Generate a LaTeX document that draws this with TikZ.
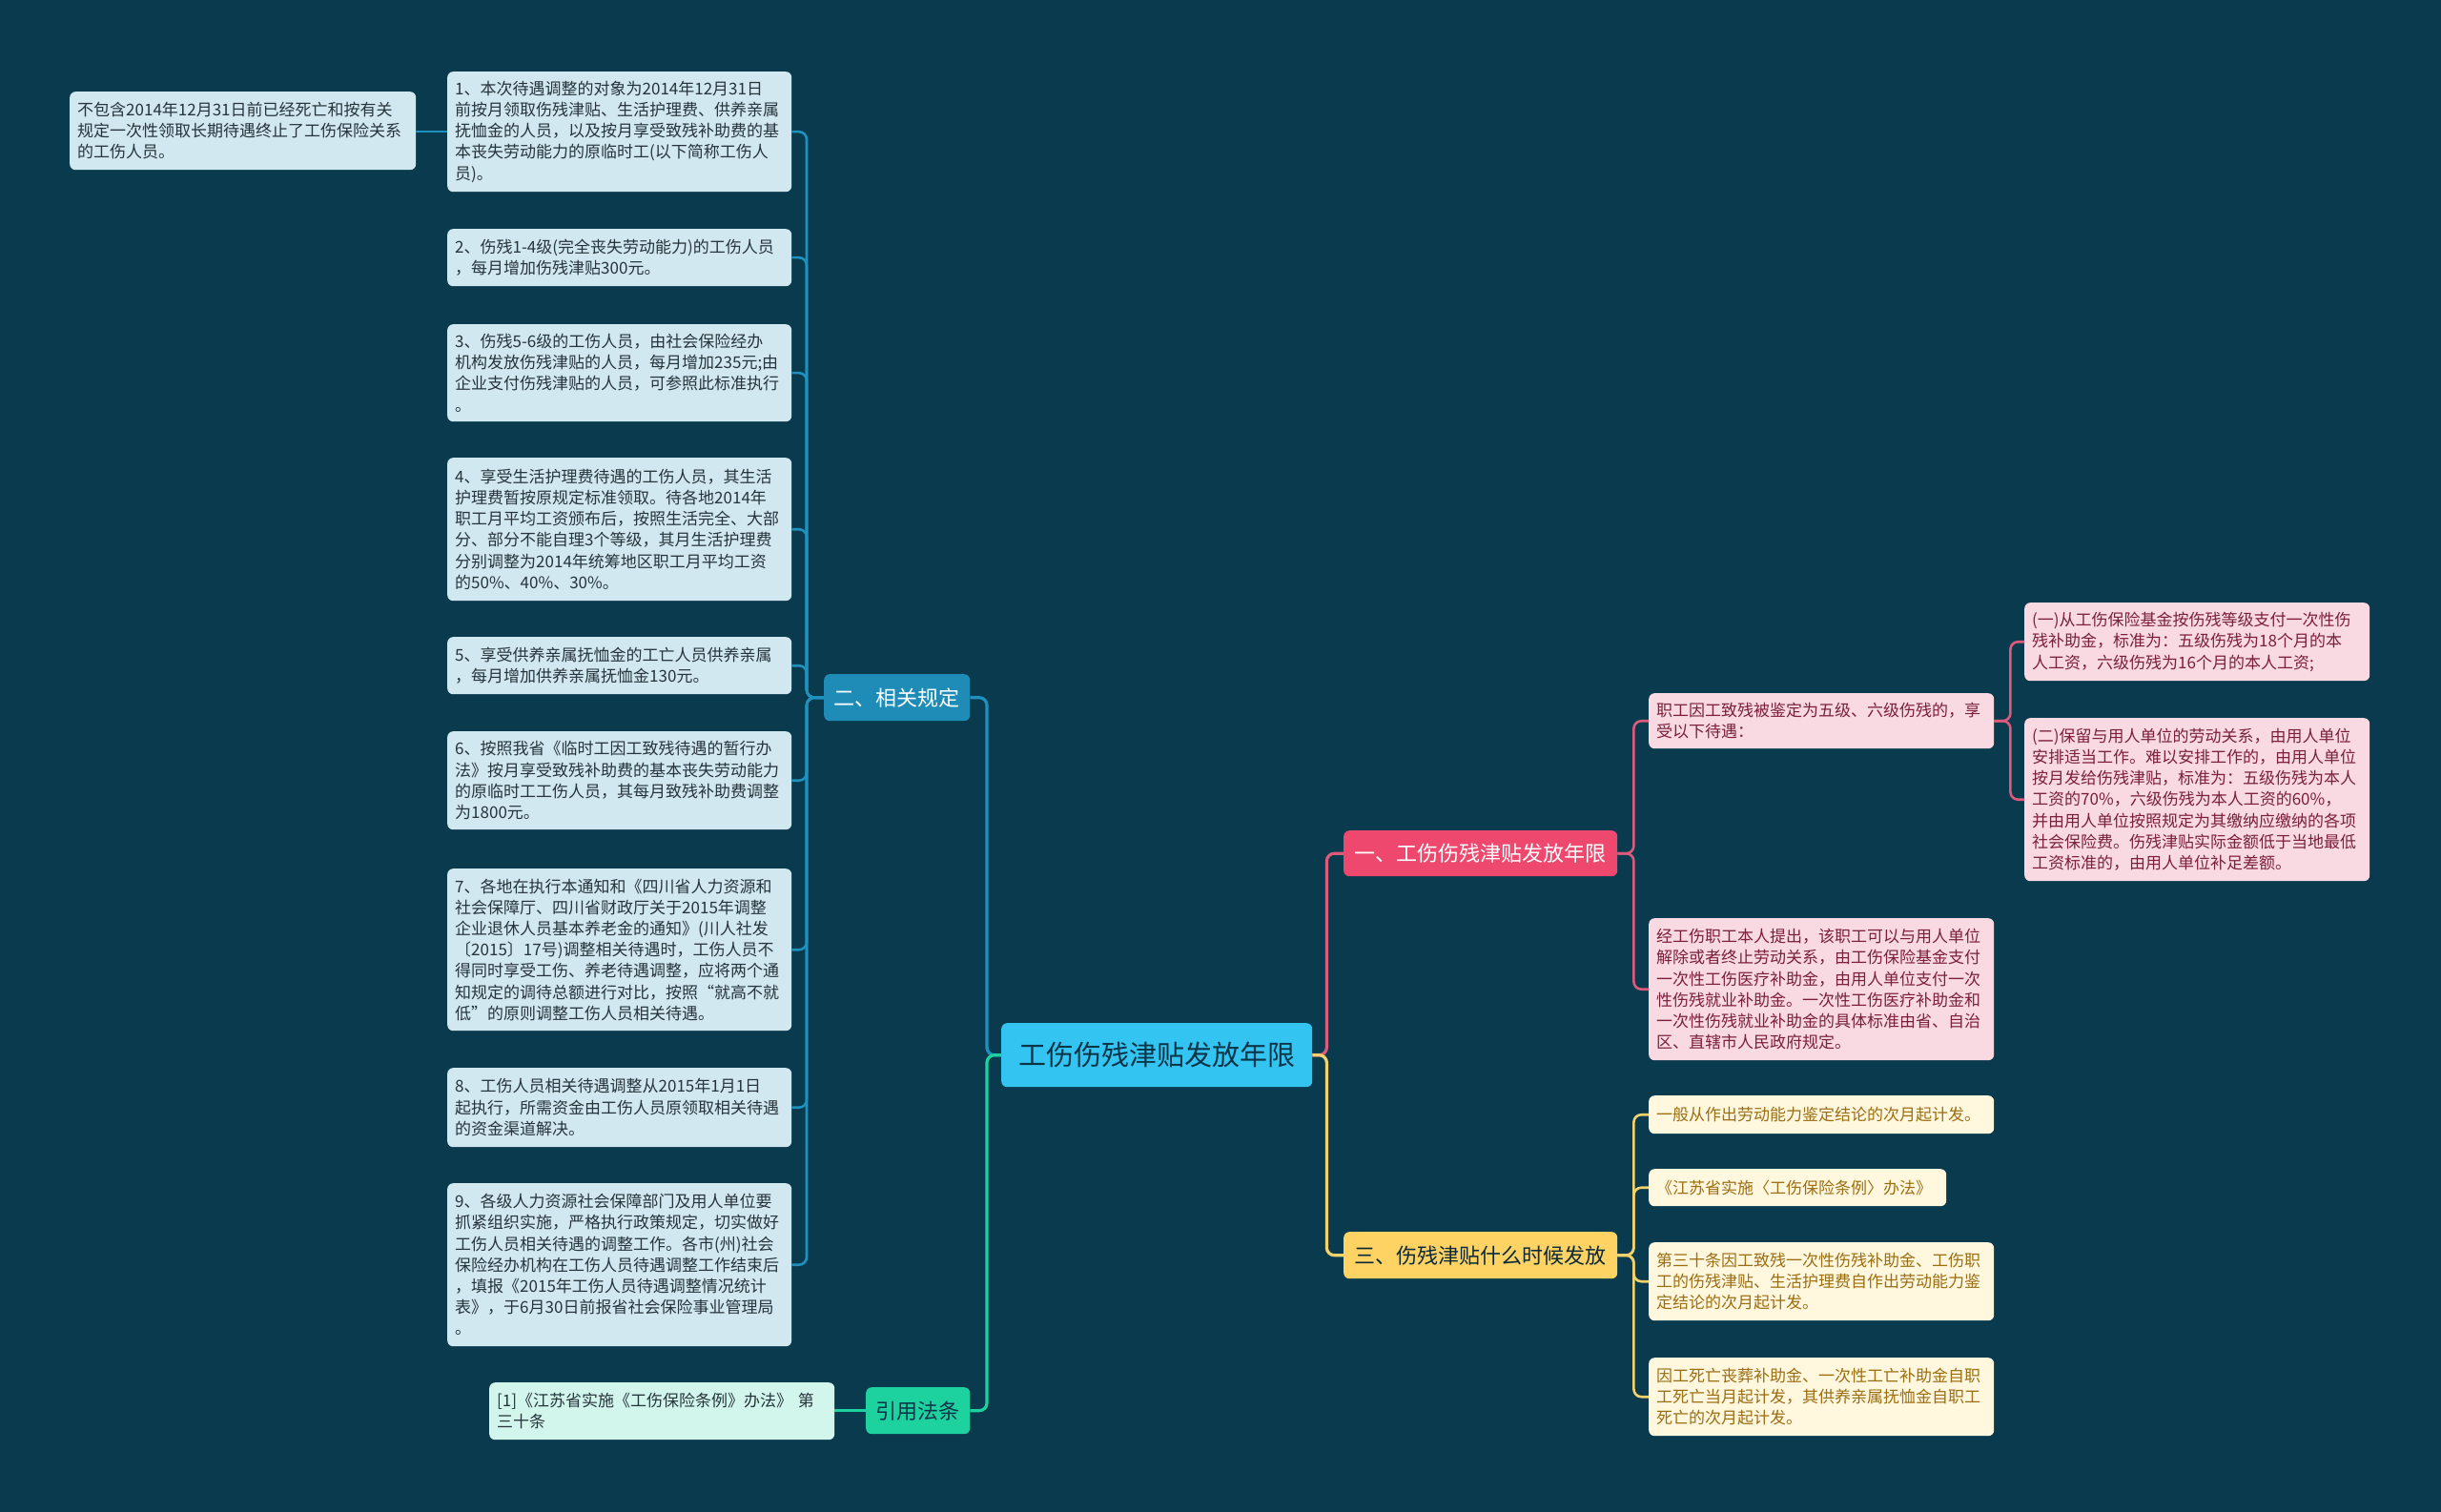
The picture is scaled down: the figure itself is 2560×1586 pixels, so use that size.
\documentclass[tikz,border=0pt]{standalone}
\usepackage{fontspec}
\usepackage{xcolor}
\newfontfamily\cjk{Noto Sans CJK SC}
\usetikzlibrary{positioning}

\definecolor{bgcol}{HTML}{0A3A4D}
\definecolor{rootfill}{HTML}{33C4F2}
\definecolor{rootink}{HTML}{0C3447}
\definecolor{bluefill}{HTML}{1E8CB6}
\definecolor{blueline}{HTML}{1F91BE}
\definecolor{bleaffill}{HTML}{D2E8F0}
\definecolor{bleafink}{HTML}{26343B}
\definecolor{greenfill}{HTML}{1ED2A0}
\definecolor{gleaffill}{HTML}{D2F6EC}
\definecolor{pinkfill}{HTML}{EE486E}
\definecolor{pinkline}{HTML}{DC5A7C}
\definecolor{pleaffill}{HTML}{FADAE2}
\definecolor{pleafink}{HTML}{7A1F3D}
\definecolor{yellowfill}{HTML}{FFD264}
\definecolor{yellowline}{HTML}{F3D26E}
\definecolor{yleaffill}{HTML}{FFF7DE}
\definecolor{yleafink}{HTML}{9C6E12}

\begin{document}
\begin{tikzpicture}[
  x=1pt, y=-1pt,
  box/.style={rectangle, rounded corners=6pt, anchor=north west,
              inner xsep=8pt, inner ysep=3pt, align=left,
              font=\cjk\fontsize{17}{22.2}\selectfont},
  bleaf/.style={box, fill=bleaffill, text=bleafink},
  gleaf/.style={box, fill=gleaffill, text=bleafink},
  pleaf/.style={box, fill=pleaffill, text=pleafink},
  yleaf/.style={box, fill=yleaffill, text=yleafink},
  branch/.style={rectangle, rounded corners=6pt, anchor=north west,
                 inner sep=0pt, align=center,
                 font=\cjk\fontsize{22}{26}\selectfont},
  conn/.style={line width=3.2pt, rounded corners=8pt},
  lconn/.style={line width=2.6pt, rounded corners=8pt},
]

\fill[bgcol] (0,0) rectangle (2560,1586);
\useasboundingbox (0,0) rectangle (2560,1586);

%% ---- root ----
\node[branch, fill=rootfill, text=rootink, minimum width=326pt, minimum height=67pt,
      font=\cjk\fontsize{29}{34}\selectfont] (root) at (1050,1073) {工伤伤残津贴发放年限};

%% ---- left: related rules ----
\node[branch, fill=bluefill, text=white, minimum width=153pt, minimum height=49pt]
      (rules) at (864,707) {二、相关规定};

\node[bleaf, text width=345pt, minimum height=126pt] (rule1) at (469,75)
  {1、本次待遇调整的对象为2014年12月31日\\前按月领取伤残津贴、生活护理费、供养亲属\\抚恤金的人员，以及按月享受致残补助费的基\\本丧失劳动能力的原临时工(以下简称工伤人\\员)。};
\node[bleaf, text width=345pt, minimum height=60pt] (rule2) at (469,240)
  {2、伤残1-4级(完全丧失劳动能力)的工伤人员\\，每月增加伤残津贴300元。};
\node[bleaf, text width=345pt, minimum height=102pt] (rule3) at (469,340)
  {3、伤残5-6级的工伤人员，由社会保险经办\\机构发放伤残津贴的人员，每月增加235元;由\\企业支付伤残津贴的人员，可参照此标准执行\\。};
\node[bleaf, text width=345pt, minimum height=150pt] (rule4) at (469,480)
  {4、享受生活护理费待遇的工伤人员，其生活\\护理费暂按原规定标准领取。待各地2014年\\职工月平均工资颁布后，按照生活完全、大部\\分、部分不能自理3个等级，其月生活护理费\\分别调整为2014年统筹地区职工月平均工资\\的50\%、40\%、30\%。};
\node[bleaf, text width=345pt, minimum height=60pt] (rule5) at (469,668)
  {5、享受供养亲属抚恤金的工亡人员供养亲属\\，每月增加供养亲属抚恤金130元。};
\node[bleaf, text width=345pt, minimum height=103pt] (rule6) at (469,767)
  {6、按照我省《临时工因工致残待遇的暂行办\\法》按月享受致残补助费的基本丧失劳动能力\\的原临时工工伤人员，其每月致残补助费调整\\为1800元。};
\node[bleaf, text width=345pt, minimum height=170pt] (rule7) at (469,911)
  {7、各地在执行本通知和《四川省人力资源和\\社会保障厅、四川省财政厅关于2015年调整\\企业退休人员基本养老金的通知》(川人社发\\〔2015〕17号)调整相关待遇时，工伤人员不\\得同时享受工伤、养老待遇调整，应将两个通\\知规定的调待总额进行对比，按照“就高不就\\低”的原则调整工伤人员相关待遇。};
\node[bleaf, text width=345pt, minimum height=83pt] (rule8) at (469,1120)
  {8、工伤人员相关待遇调整从2015年1月1日\\起执行，所需资金由工伤人员原领取相关待遇\\的资金渠道解决。};
\node[bleaf, text width=345pt, minimum height=171pt] (rule9) at (469,1241)
  {9、各级人力资源社会保障部门及用人单位要\\抓紧组织实施，严格执行政策规定，切实做好\\工伤人员相关待遇的调整工作。各市(州)社会\\保险经办机构在工伤人员待遇调整工作结束后\\，填报《2015年工伤人员待遇调整情况统计\\表》，于6月30日前报省社会保险事业管理局\\。};

\node[bleaf, text width=347pt, minimum height=82pt] (rule0) at (73,96)
  {不包含2014年12月31日前已经死亡和按有关\\规定一次性领取长期待遇终止了工伤保险关系\\的工伤人员。};

%% ---- left: citation ----
\node[branch, fill=greenfill, text=rootink, minimum width=109pt, minimum height=49pt]
      (cite) at (908,1455) {引用法条};
\node[gleaf, text width=346pt, minimum height=60pt] (law) at (513,1450)
  {[1]《江苏省实施《工伤保险条例》办法》 第\\三十条};

%% ---- right: pink branch ----
\node[branch, fill=pinkfill, text=white, minimum width=287pt, minimum height=48pt]
      (years) at (1409,871) {一、工伤伤残津贴发放年限};

\node[pleaf, text width=346pt, minimum height=58pt] (grade) at (1729,727)
  {职工因工致残被鉴定为五级、六级伤残的，享\\受以下待遇：};
\node[pleaf, text width=346pt, minimum height=82pt] (lump) at (2123,632)
  {(一)从工伤保险基金按伤残等级支付一次性伤\\残补助金，标准为：五级伤残为18个月的本\\人工资，六级伤残为16个月的本人工资;};
\node[pleaf, text width=346pt, minimum height=171pt] (keep) at (2123,753)
  {(二)保留与用人单位的劳动关系，由用人单位\\安排适当工作。难以安排工作的，由用人单位\\按月发给伤残津贴，标准为：五级伤残为本人\\工资的70\%，六级伤残为本人工资的60\%，\\并由用人单位按照规定为其缴纳应缴纳的各项\\社会保险费。伤残津贴实际金额低于当地最低\\工资标准的，由用人单位补足差额。};
\node[pleaf, text width=346pt, minimum height=149pt] (quit) at (1729,963)
  {经工伤职工本人提出，该职工可以与用人单位\\解除或者终止劳动关系，由工伤保险基金支付\\一次性工伤医疗补助金，由用人单位支付一次\\性伤残就业补助金。一次性工伤医疗补助金和\\一次性伤残就业补助金的具体标准由省、自治\\区、直辖市人民政府规定。};

%% ---- right: yellow branch ----
\node[branch, fill=yellowfill, text=rootink!80!black, minimum width=287pt, minimum height=49pt]
      (when) at (1409,1292) {三、伤残津贴什么时候发放};

\node[yleaf, text width=346pt, minimum height=40pt] (when1) at (1729,1149)
  {一般从作出劳动能力鉴定结论的次月起计发。};
\node[yleaf, text width=296pt, minimum height=39pt] (when2) at (1729,1226)
  {《江苏省实施〈工伤保险条例〉办法》};
\node[yleaf, text width=346pt, minimum height=82pt] (when3) at (1729,1303)
  {第三十条因工致残一次性伤残补助金、工伤职\\工的伤残津贴、生活护理费自作出劳动能力鉴\\定结论的次月起计发。};
\node[yleaf, text width=346pt, minimum height=82pt] (when4) at (1729,1424)
  {因工死亡丧葬补助金、一次性工亡补助金自职\\工死亡当月起计发，其供养亲属抚恤金自职工\\死亡的次月起计发。};

%% ---- connectors ----
\draw[conn, blueline]   (root.west) -- ++(-15,0) |- (rules.east);
\draw[conn, greenfill]  (root.west) -- ++(-15,0) |- (cite.east);
\draw[conn, pinkline]   (root.east) -- ++(15,0) |- (years.west);
\draw[conn, yellowline] (root.east) -- ++(15,0) |- (when.west);

\foreach \n in {1,...,9}
  \draw[lconn, blueline] (rules.west) -- ++(-18,0) |- (rule\n.east);
\draw[lconn, blueline] (rule1.west) -- (rule1.west -| rule0.east);
\draw[lconn, greenfill] (cite.west) -- (cite.west -| law.east);

\foreach \n in {grade,quit}
  \draw[lconn, pinkline] (years.east) -- ++(17,0) |- (\n.west);
\foreach \n in {lump,keep}
  \draw[lconn, pinkline] (grade.east) -- ++(17,0) |- (\n.west);
\foreach \n in {when1,when2,when3,when4}
  \draw[lconn, yellowline] (when.east) -- ++(17,0) |- (\n.west);

\end{tikzpicture}
\end{document}
